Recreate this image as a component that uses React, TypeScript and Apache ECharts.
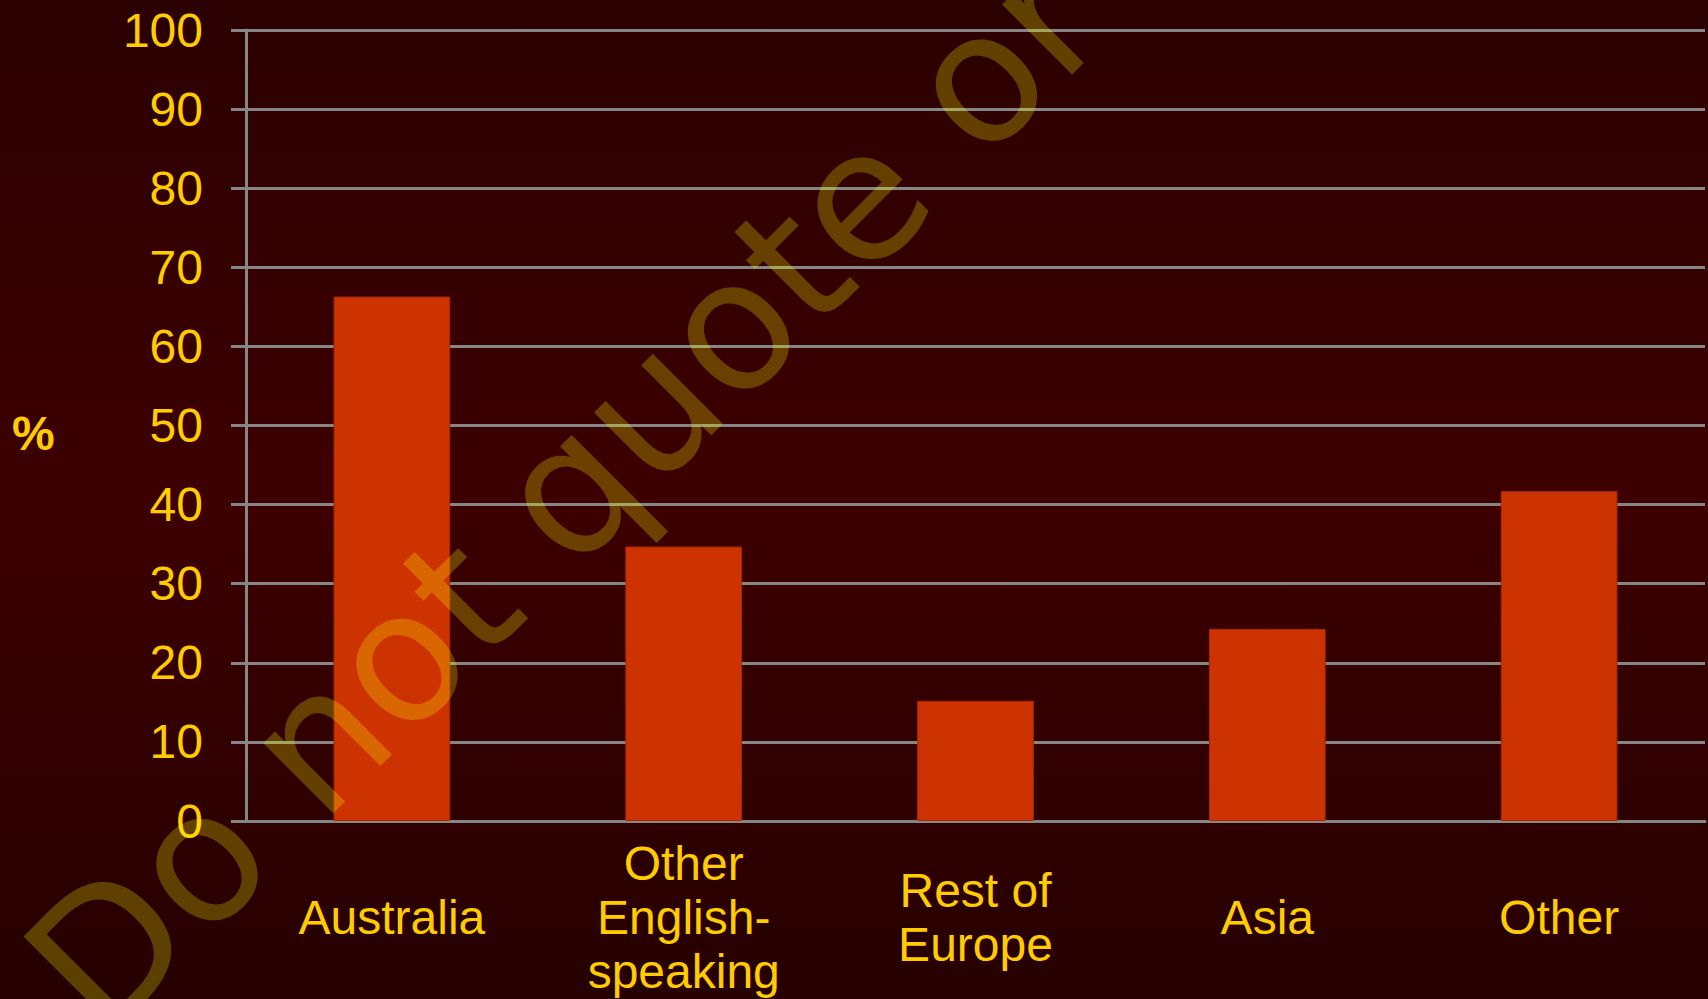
import React, { useEffect, useRef } from "react";
import * as echarts from "echarts";

const categories = ["Australia", "Other\nEnglish-\nspeaking", "Rest of\nEurope", "Asia", "Other"];
const values = [66.3, 34.7, 15.2, 24.3, 41.7];
const yAxisName = "%";
const watermark = "Do not quote or";

const FONT = "'Liberation Sans', Arial, sans-serif";
const YELLOW = "#FFCC00";
const GRID = "#868686";

export default function App() {
  const ref = useRef<HTMLDivElement>(null);
  useEffect(() => {
    if (!ref.current) return;
    const chart = echarts.init(ref.current, null, { renderer: "svg" });
    chart.setOption({
      animation: false,
      backgroundColor: {
        type: "linear",
        x: 0, y: 0, x2: 0, y2: 1,
        colorStops: [
          { offset: 0, color: "#2b0000" },
          { offset: 0.5, color: "#3d0000" },
          { offset: 1, color: "#260000" },
        ],
      },
      grid: { left: 246, right: 3, top: 30, bottom: 178, containLabel: false },
      xAxis: {
        type: "category",
        data: categories,
        axisLine: { show: true, lineStyle: { color: GRID, width: 3 } },
        axisTick: { show: false },
        axisLabel: {
          color: YELLOW,
          fontFamily: FONT,
          fontSize: 48,
          lineHeight: 54,
          margin: 96,
          verticalAlign: "middle",
          align: "center",
          interval: 0,
        },
        splitLine: { show: false },
      },
      yAxis: {
        type: "value",
        min: 0,
        max: 100,
        interval: 10,
        axisLine: { show: true, lineStyle: { color: GRID, width: 3 } },
        axisTick: { show: true, length: 15, lineStyle: { color: GRID, width: 3 } },
        axisLabel: { color: YELLOW, fontFamily: FONT, fontSize: 48, margin: 43 },
        splitLine: { show: true, lineStyle: { color: GRID, width: 3 } },
      },
      series: [
        {
          type: "bar",
          data: values,
          barWidth: "40%",
          itemStyle: { color: "#CC3300", borderColor: "#A82800", borderWidth: 1 },
        },
      ],
      graphic: [
        {
          type: "text",
          left: 12,
          top: 409,
          z: 100,
          style: {
            text: yAxisName,
            fill: YELLOW,
            fontFamily: FONT,
            fontSize: 48,
            fontWeight: "bold",
          },
        },
        {
          type: "text",
          x: 60,
          y: 998,
          rotation: Math.PI / 4,
          z: 100,
          silent: true,
          style: {
            text: watermark,
            fill: "rgba(255,255,0,0.25)",
            fontFamily: "'DejaVu Sans', sans-serif",
            fontSize: 181,
            align: "left",
            verticalAlign: "middle",
            textAlign: "left",
            textVerticalAlign: "middle",
          },
        },
      ],
    });
    return () => chart.dispose();
  }, []);
  return (
    <div
      ref={ref}
      style={{ position: "fixed", left: 0, top: 0, width: 1708, height: 999 }}
    />
  );
}
